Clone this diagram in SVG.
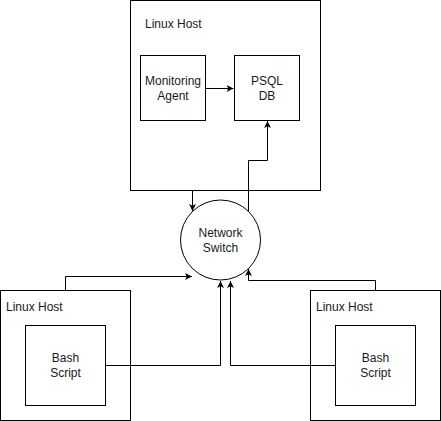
<svg xmlns="http://www.w3.org/2000/svg" width="441" height="421" viewBox="0 0 441 421">
<style>
.box{fill:#fff;stroke:#000;stroke-width:1}
.t{font-family:"Liberation Sans",Arial,sans-serif;font-size:12px;fill:#1a1a1a}
.c{text-anchor:middle}
.e{fill:none;stroke:#000;stroke-width:1}
</style>
<defs>
<marker id="a" markerWidth="8" markerHeight="8" refX="7" refY="4" orient="auto" markerUnits="userSpaceOnUse">
<path d="M0,0.5 L7,4 L0,7.5 L1.8,4 Z" fill="#000"/>
</marker>
</defs>
<rect width="441" height="421" fill="#fff"/>
<g id="host-top">
<rect class="box" x="130.5" y="0.5" width="190" height="190"/>
<text class="t" x="145" y="28">Linux Host</text>
</g>
<g id="monitoring-agent">
<rect class="box" x="140.5" y="55.5" width="65" height="65"/>
<text class="t c" x="173" y="85">Monitoring</text>
<text class="t c" x="173" y="100">Agent</text>
</g>
<g id="psql-db">
<rect class="box" x="234.5" y="55.5" width="65" height="65"/>
<text class="t c" x="267" y="85">PSQL</text>
<text class="t c" x="267" y="100">DB</text>
</g>
<g id="switch">
<circle class="box" cx="220.5" cy="240" r="40"/>
<text class="t c" x="220.5" y="237">Network</text>
<text class="t c" x="220.5" y="252">Switch</text>
</g>
<g id="host-left">
<rect class="box" x="0.5" y="290.5" width="130" height="130"/>
<text class="t" x="6" y="311">Linux Host</text>
</g>
<g id="bash-left">
<rect class="box" x="25.5" y="325.5" width="80" height="80"/>
<text class="t c" x="65.5" y="362">Bash</text>
<text class="t c" x="65.5" y="377">Script</text>
</g>
<g id="host-right">
<rect class="box" x="310.5" y="290.5" width="130" height="130"/>
<text class="t" x="316" y="311">Linux Host</text>
</g>
<g id="bash-right">
<rect class="box" x="335.5" y="325.5" width="80" height="80"/>
<text class="t c" x="375.5" y="362">Bash</text>
<text class="t c" x="375.5" y="377">Script</text>
</g>
<g id="connectors">
<path class="e" d="M205.5,88.5 H233.5" marker-end="url(#a)"/>
<path class="e" d="M192.5,190.5 V211" marker-end="url(#a)"/>
<path class="e" d="M248.5,211 V160.5 H267.5 V121" marker-end="url(#a)"/>
<path class="e" d="M65.5,290.5 V276.5 H192" marker-end="url(#a)"/>
<path class="e" d="M105.5,365.5 H220.5 V281" marker-end="url(#a)"/>
<path class="e" d="M335.5,365.5 H230.5 V281" marker-end="url(#a)"/>
<path class="e" d="M375.5,290.5 V280.5 H248.5 V269" marker-end="url(#a)"/>
</g>
</svg>
